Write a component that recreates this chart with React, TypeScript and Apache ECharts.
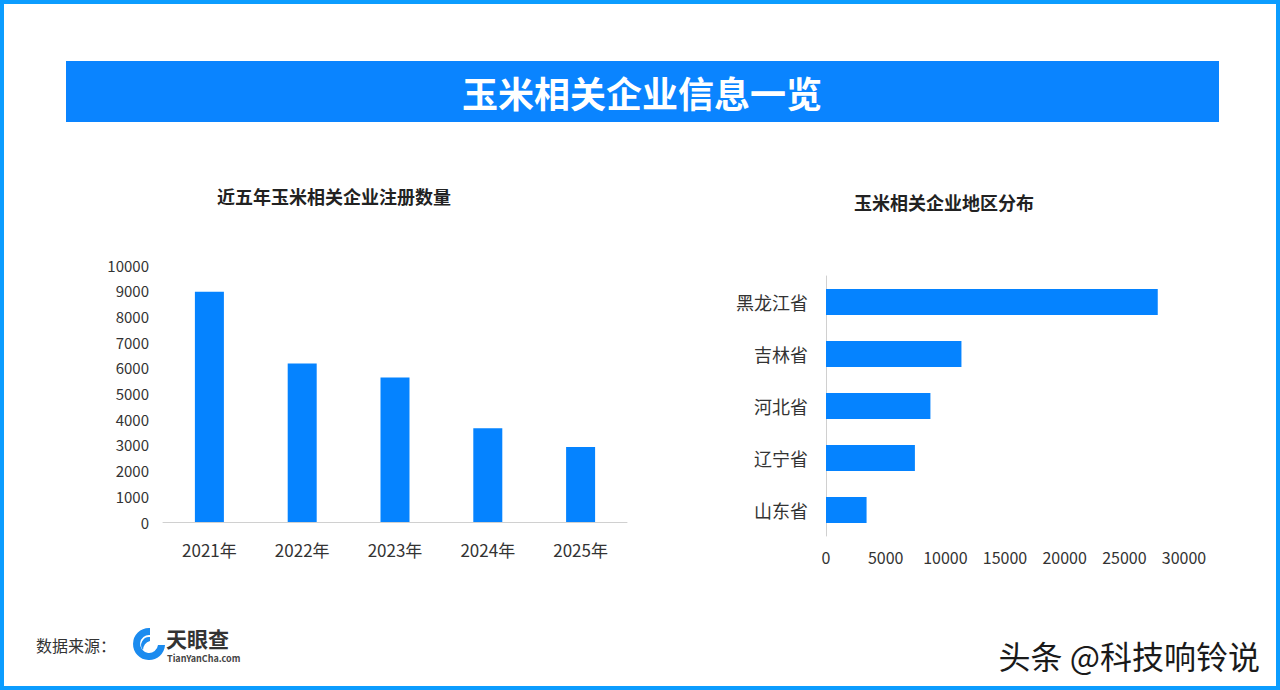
import React, { useEffect, useRef } from "react";
import * as echarts from "echarts";

const years = ["2021年", "2022年", "2023年", "2024年", "2025年"];
const registrations = [8960, 6170, 5620, 3650, 2920];
const provinces = ["黑龙江省", "吉林省", "河北省", "辽宁省", "山东省"];
const provinceCounts = [27800, 11350, 8750, 7450, 3400];

const BLUE = "#0A84FF";
const BAR = "#0583FF";
const FONT = "'Noto Sans CJK SC', 'Noto Sans', sans-serif";

echarts.graphic.registerShape(
  "tycSwirl",
  echarts.graphic.extendPath(
    "M16 0 A16 16 0 1 0 32 17 L25 17 A9 9 0 1 1 17 7 L17 0 Z M17 9 A8 8 0 0 0 10 22 A10 10 0 0 1 17 13 Z",
    {}
  )
);

const plain = (v: number) => String(v);

export default function App() {
  const ref = useRef<HTMLDivElement>(null);
  useEffect(() => {
    if (!ref.current) return;
    const chart = echarts.init(ref.current, null, { renderer: "svg" });
    chart.setOption({
      animation: false,
      backgroundColor: "#ffffff",
      textStyle: { fontFamily: FONT },
      title: [
        {
          text: "近五年玉米相关企业注册数量",
          left: 329,
          top: 182,
          textAlign: "center",
          textStyle: { fontSize: 18, fontWeight: "bold", color: "#222", fontFamily: FONT },
        },
        {
          text: "玉米相关企业地区分布",
          left: 939,
          top: 188,
          textAlign: "center",
          textStyle: { fontSize: 18, fontWeight: "bold", color: "#222", fontFamily: FONT },
        },
      ],
      grid: [
        { left: 163, top: 265, width: 464, height: 257 },
        { left: 826, top: 276, width: 358, height: 260 },
      ],
      xAxis: [
        {
          type: "category",
          gridIndex: 0,
          data: years,
          axisLine: { lineStyle: { color: "#d0d0d0" } },
          axisTick: { show: false },
          axisLabel: { fontSize: 17, color: "#333", margin: 19, fontFamily: FONT },
        },
        {
          type: "value",
          gridIndex: 1,
          min: 0,
          max: 30000,
          interval: 5000,
          axisLine: { show: false },
          axisTick: { show: false },
          splitLine: { show: false },
          axisLabel: { fontSize: 16, color: "#333", margin: 13, fontFamily: FONT, formatter: plain },
        },
      ],
      yAxis: [
        {
          type: "value",
          gridIndex: 0,
          min: 0,
          max: 10000,
          interval: 1000,
          axisLine: { show: false },
          axisTick: { show: false },
          splitLine: { show: false },
          axisLabel: { fontSize: 15, color: "#333", margin: 14, fontFamily: FONT, formatter: plain },
        },
        {
          type: "category",
          gridIndex: 1,
          data: provinces,
          inverse: true,
          axisLine: { lineStyle: { color: "#d0d0d0" } },
          axisTick: { show: false },
          axisLabel: { fontSize: 18, color: "#333", margin: 18, fontFamily: FONT },
        },
      ],
      series: [
        {
          type: "bar",
          xAxisIndex: 0,
          yAxisIndex: 0,
          data: registrations,
          barWidth: 29,
          itemStyle: { color: BAR },
        },
        {
          type: "bar",
          xAxisIndex: 1,
          yAxisIndex: 1,
          data: provinceCounts,
          barWidth: 26,
          itemStyle: { color: BAR },
        },
      ],
      graphic: [
        {
          type: "rect",
          shape: { x: 2, y: 2, width: 1276, height: 686 },
          style: { fill: "none", stroke: "#0C9DFF", lineWidth: 4 },
        },
        {
          type: "rect",
          shape: { x: 66, y: 61, width: 1153, height: 61 },
          style: { fill: BLUE },
        },
        {
          type: "text",
          x: 642,
          y: 92,
          style: {
            text: "玉米相关企业信息一览",
            fill: "#fff",
            font: `bold 36px ${FONT}`,
            align: "center",
            verticalAlign: "middle",
          },
        },
        {
          type: "text",
          x: 36,
          y: 645,
          style: {
            text: "数据来源：",
            fill: "#333",
            font: `16px ${FONT}`,
            verticalAlign: "middle",
          },
        },
        {
          type: "tycSwirl",
          x: 133,
          y: 628,
          scaleX: 1,
          scaleY: 1,
          style: { fill: "#1B8BEF" },
        },
        {
          type: "text",
          x: 166,
          y: 638,
          style: {
            text: "天眼查",
            fill: "#333",
            font: `bold 21px ${FONT}`,
            verticalAlign: "middle",
          },
        },
        {
          type: "text",
          x: 167,
          y: 658,
          style: {
            text: "TianYanCha.com",
            fill: "#444",
            font: `bold 9px ${FONT}`,
            verticalAlign: "middle",
          },
        },
        {
          type: "text",
          x: 1260,
          y: 655,
          style: {
            text: "头条 @科技响铃说",
            fill: "#1a1a1a",
            font: `32px ${FONT}`,
            align: "right",
            verticalAlign: "middle",
            stroke: "#ffffff",
            lineWidth: 2,
          },
        },
      ],
    });
    return () => chart.dispose();
  }, []);
  return (
    <div
      ref={ref}
      style={{ position: "absolute", left: 0, top: 0, width: 1280, height: 690 }}
    />
  );
}
